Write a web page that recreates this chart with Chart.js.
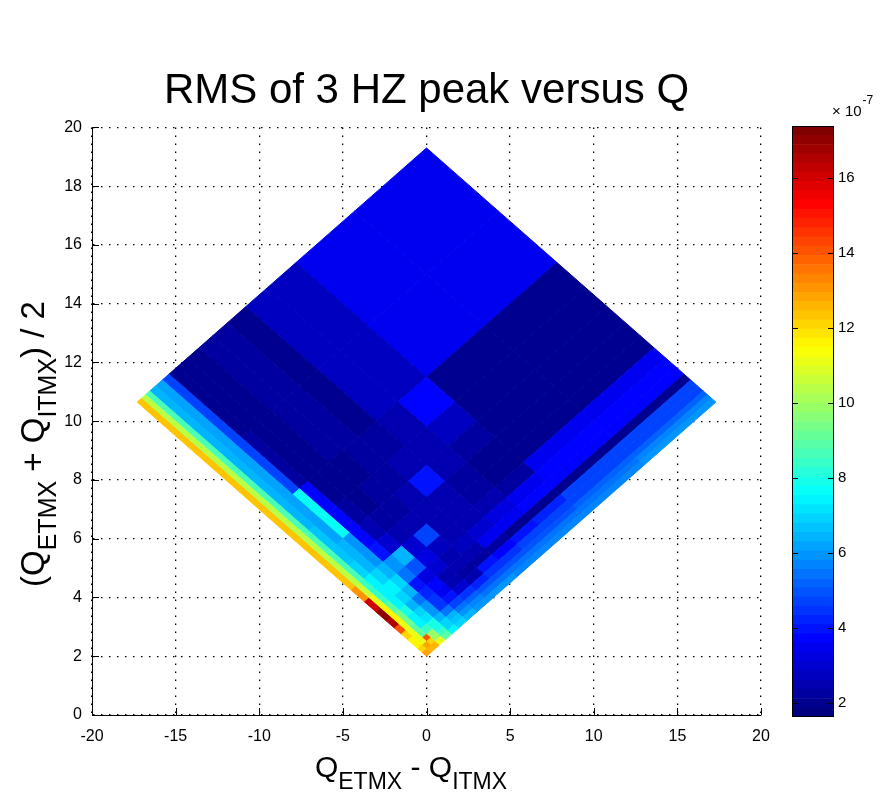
<!DOCTYPE html>
<html>
<head>
<meta charset="utf-8">
<script src="https://cdn.jsdelivr.net/npm/chart.js@4.4.1/dist/chart.umd.min.js"></script>
<style>
  body { margin: 0; background: #fff; }
  #wrap { position: relative; width: 885px; height: 793px; }
  #main { position: absolute; left: 0; top: 0; }
  #bar { position: absolute; left: 760px; top: 0; }
</style>
</head>
<body>
<div id="wrap">
  <canvas id="main" width="885" height="793"></canvas>
  <canvas id="bar" width="125" height="793"></canvas>
</div>
<script>
// Q values at the cell edges, same grid for ETMX and ITMX
const qEdges = [2.0, 2.25, 2.5, 2.75, 3.1, 3.5, 3.9, 4.4, 5.0, 5.7, 6.5, 7.4, 8.5, 9.8, 11.5, 15.0, 19.3];

// RMS of the 3 Hz peak (x 1e-7): one row per Q_ETMX cell, columns are Q_ITMX cells
const rms = [
  [12.8, 12.0, 11.5, 11.5, 12.0, 14.0, 16.5, 17.0, 16.0, 13.0, 12.3, 12.3, 12.3, 12.3, 12.3, 12.3],
  [12.5, 12.8, 11.0, 11.0, 11.0, 11.0, 11.5, 11.5, 11.0, 10.5, 10.3, 10.3, 10.3, 10.3, 10.3, 10.3],
  [12.5, 12.0, 14.0, 9.0, 9.0, 9.5, 9.5, 9.0, 8.5, 8.5, 8.6, 8.6, 8.6, 8.6, 8.6, 8.6],
  [11.0, 10.0, 10.0, 8.5, 7.5, 7.5, 8.0, 7.5, 7.5, 7.5, 7.0, 6.8, 6.6, 6.5, 6.5, 6.5],
  [9.0, 8.5, 8.0, 8.0, 7.2, 7.0, 6.5, 7.0, 7.5, 7.0, 6.5, 6.5, 6.3, 6.3, 6.3, 6.3],
  [7.5, 7.0, 7.0, 6.5, 6.0, 6.0, 5.5, 6.5, 7.0, 6.5, 6.0, 6.0, 7.6, 7.6, 4.6, 4.6],
  [7.0, 6.8, 6.5, 5.5, 4.5, 4.5, 4.2, 4.0, 5.5, 6.0, 4.0, 3.8, 3.8, 3.6, 2.3, 2.1],
  [6.5, 6.0, 5.5, 4.8, 4.0, 3.5, 3.8, 3.2, 5.0, 6.5, 3.0, 2.4, 2.2, 2.1, 2.0, 1.9],
  [6.0, 5.8, 5.2, 4.5, 3.0, 2.6, 2.4, 3.0, 3.2, 3.0, 2.6, 2.3, 2.1, 2.0, 2.0, 1.9],
  [6.0, 5.5, 5.0, 4.2, 2.4, 2.3, 2.6, 2.4, 2.8, 4.8, 2.5, 2.3, 2.2, 2.1, 2.3, 2.3],
  [6.0, 5.5, 5.0, 4.5, 4.0, 2.3, 2.6, 2.8, 2.6, 2.6, 2.6, 2.5, 2.3, 2.2, 2.3, 2.3],
  [5.8, 5.5, 5.0, 4.5, 3.8, 2.2, 3.5, 3.0, 2.6, 2.4, 2.6, 4.0, 2.6, 2.3, 2.0, 1.9],
  [5.8, 5.5, 5.0, 4.6, 4.0, 2.0, 3.5, 3.3, 2.4, 2.3, 2.2, 2.6, 2.5, 2.6, 2.7, 2.7],
  [5.8, 5.5, 5.0, 4.8, 4.2, 1.9, 3.6, 3.4, 2.2, 2.1, 2.0, 2.2, 2.8, 3.8, 2.8, 2.8],
  [5.8, 5.5, 5.2, 4.8, 4.6, 2.0, 3.6, 3.6, 3.4, 2.0, 2.0, 2.0, 2.0, 2.0, 3.5, 3.5],
  [6.0, 5.6, 5.2, 4.8, 4.6, 2.0, 3.6, 3.6, 3.4, 2.0, 2.0, 2.0, 2.0, 2.0, 3.5, 3.5]
];

const cbMin = 1.63;
const cbMax = 17.39;
const cbTicks = [2, 4, 6, 8, 10, 12, 14, 16];

const FONT = '"Liberation Sans", Arial, Helvetica, sans-serif';
Chart.defaults.font.family = FONT;
Chart.defaults.color = '#000';

// matlab style jet, 64 levels
function jetIndex(k) {
  const s = k / 63;
  const f = (c) => Math.round(255 * Math.max(0, Math.min(1, 1.5 - Math.abs(4 * s - c))));
  return 'rgb(' + f(3) + ',' + f(2) + ',' + f(1) + ')';
}
function jetColor(v) {
  let k = Math.floor((v - cbMin) / (cbMax - cbMin) * 64);
  k = Math.max(0, Math.min(63, k));
  return jetIndex(k);
}

// one closed polygon per cell, in (Q_ETMX - Q_ITMX, (Q_ETMX + Q_ITMX)/2) coordinates
const cellSets = [];
for (let i = 0; i < rms.length; i++) {
  for (let j = 0; j < rms[i].length; j++) {
    const a0 = qEdges[i], a1 = qEdges[i + 1];
    const b0 = qEdges[j], b1 = qEdges[j + 1];
    const corners = [[a0, b0], [a1, b0], [a1, b1], [a0, b1], [a0, b0]];
    const col = jetColor(rms[i][j]);
    cellSets.push({
      data: corners.map(([a, b]) => ({ x: a - b, y: (a + b) / 2 })),
      showLine: true,
      fill: 'shape',
      backgroundColor: col,
      borderColor: col,
      borderWidth: 1,
      pointRadius: 0,
      tension: 0
    });
  }
}

function drawRich(ctx, parts, big, small, drop) {
  let w = 0;
  parts.forEach(p => {
    ctx.font = (p[1] ? small : big) + 'px ' + FONT;
    w += ctx.measureText(p[0]).width;
  });
  let x = -w / 2;
  parts.forEach(p => {
    ctx.font = (p[1] ? small : big) + 'px ' + FONT;
    ctx.fillText(p[0], x, p[1] ? drop : 0);
    x += ctx.measureText(p[0]).width;
  });
}

// inward tick marks and axis labels with subscripts
const axisDecor = {
  id: 'axisDecor',
  afterDraw(chart) {
    const { ctx, chartArea: ca, scales: { x, y } } = chart;
    ctx.save();
    ctx.strokeStyle = '#000';
    ctx.lineWidth = 1;
    ctx.beginPath();
    x.ticks.forEach(t => {
      const px = Math.round(x.getPixelForValue(t.value)) + 0.5;
      ctx.moveTo(px, ca.bottom);
      ctx.lineTo(px, ca.bottom - 7);
    });
    y.ticks.forEach(t => {
      const py = Math.round(y.getPixelForValue(t.value)) + 0.5;
      ctx.moveTo(ca.left, py);
      ctx.lineTo(ca.left + 7, py);
    });
    ctx.stroke();

    ctx.fillStyle = '#000';
    ctx.textBaseline = 'alphabetic';
    ctx.textAlign = 'left';
    ctx.save();
    ctx.translate(411, 777);
    drawRich(ctx, [['Q', 0], ['ETMX', 1], [' - Q', 0], ['ITMX', 1]], 30, 23, 12);
    ctx.restore();

    ctx.save();
    ctx.translate(44, 444);
    ctx.rotate(-Math.PI / 2);
    drawRich(ctx, [['(Q', 0], ['ETMX', 1], [' + Q', 0], ['ITMX', 1], [') / 2', 0]], 33, 25, 12);
    ctx.restore();
    ctx.restore();
  }
};

new Chart(document.getElementById('main'), {
  type: 'scatter',
  data: { datasets: cellSets },
  options: {
    responsive: false,
    animation: false,
    events: [],
    layout: { padding: { left: 0, right: 124, top: 0, bottom: 0 } },
    plugins: {
      legend: { display: false },
      tooltip: { enabled: false },
      title: {
        display: true,
        fullSize: false,
        text: 'RMS of 3 HZ peak versus Q',
        color: '#000',
        font: { family: FONT, size: 42, weight: 'normal' },
        padding: { top: 66, bottom: 11 }
      }
    },
    scales: {
      x: {
        type: 'linear',
        min: -20,
        max: 20,
        ticks: { stepSize: 5, color: '#000', font: { size: 16 }, padding: 12, maxRotation: 0 },
        grid: { color: '#000', lineWidth: 1.3, drawTicks: false },
        border: { display: true, color: '#000', width: 1, dash: [1.5, 6.5] },
        afterFit: (s) => { s.height = 78; }
      },
      y: {
        type: 'linear',
        min: 0,
        max: 20,
        ticks: { stepSize: 2, color: '#000', font: { size: 16 }, padding: 10 },
        grid: { color: '#000', lineWidth: 1.3, drawTicks: false },
        border: { display: true, color: '#000', width: 1, dash: [1.5, 6.5] },
        afterFit: (s) => { s.width = 92; }
      }
    }
  },
  plugins: [axisDecor]
});

// colorbar
const cbFrame = {
  id: 'cbFrame',
  afterDraw(chart) {
    const { ctx, chartArea: ca, scales: { y } } = chart;
    ctx.save();
    ctx.strokeStyle = '#000';
    ctx.lineWidth = 1;
    ctx.strokeRect(ca.left + 0.5, ca.top + 0.5, ca.right - ca.left - 1, ca.bottom - ca.top - 1);
    ctx.beginPath();
    cbTicks.forEach(v => {
      const py = Math.round(y.getPixelForValue(v)) + 0.5;
      ctx.moveTo(ca.left, py);
      ctx.lineTo(ca.left + 6, py);
      ctx.moveTo(ca.right, py);
      ctx.lineTo(ca.right - 6, py);
    });
    ctx.stroke();
    ctx.fillStyle = '#000';
    ctx.textAlign = 'left';
    ctx.textBaseline = 'alphabetic';
    ctx.font = '15px ' + FONT;
    ctx.fillText('\u00d7 10', 72, 116);
    const w = ctx.measureText('\u00d7 10').width;
    ctx.font = '12px ' + FONT;
    ctx.fillText('-7', 72 + w + 1, 104);
    ctx.restore();
  }
};

const cbLevels = Array.from({ length: 64 }, (_, k) => k);
new Chart(document.getElementById('bar'), {
  type: 'bar',
  data: {
    labels: [''],
    datasets: cbLevels.map(k => ({
      data: [[cbMin + (cbMax - cbMin) * k / 64, cbMin + (cbMax - cbMin) * (k + 1) / 64]],
      backgroundColor: jetIndex(k),
      borderWidth: 0,
      grouped: false,
      barPercentage: 1,
      categoryPercentage: 1
    }))
  },
  options: {
    responsive: false,
    animation: false,
    events: [],
    layout: { padding: { left: 32, right: 0, top: 126, bottom: 76 } },
    plugins: { legend: { display: false }, tooltip: { enabled: false } },
    scales: {
      x: { display: false },
      y: {
        position: 'right',
        min: cbMin,
        max: cbMax,
        afterBuildTicks: (s) => { s.ticks = cbTicks.map(v => ({ value: v })); },
        ticks: { color: '#000', padding: 4, font: { size: 15 } },
        grid: { display: false, drawTicks: false },
        border: { display: false },
        afterFit: (s) => { s.width = 51; }
      }
    }
  },
  plugins: [cbFrame]
});
</script>
</body>
</html>
